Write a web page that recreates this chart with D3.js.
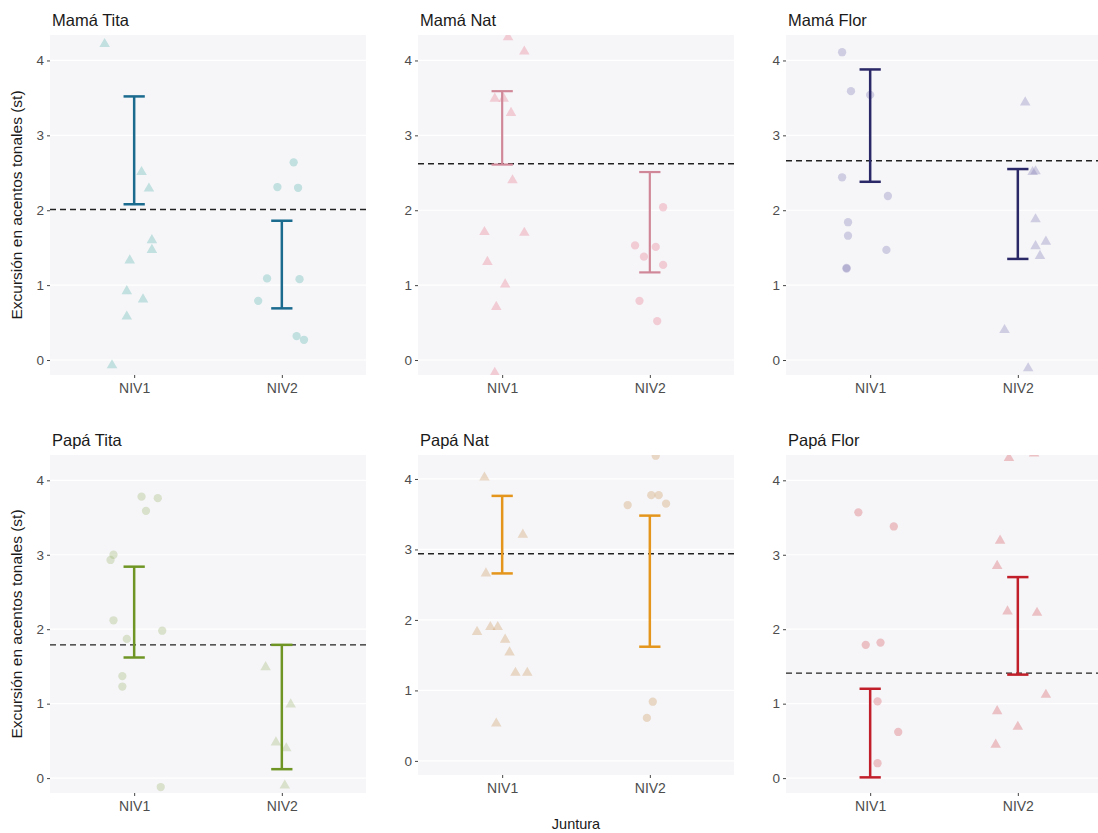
<!DOCTYPE html>
<html><head><meta charset="utf-8">
<script src="https://cdn.jsdelivr.net/npm/d3@7"></script>
<style>body{margin:0;background:#fff;}svg{display:block;font-family:"Liberation Sans",Arial,sans-serif;}</style>
</head><body>
<svg id="chart" width="1098" height="833"></svg>
<script>
// ---------- data ----------
const panelTitles = ["Mamá Tita", "Mamá Nat", "Mamá Flor", "Papá Tita", "Papá Nat", "Papá Flor"];
const categories = ["NIV1", "NIV2"];
const yTicks = [0, 1, 2, 3, 4];
const refLine = [2.01, 2.62, 2.66, 1.79, 2.94, 1.41];
const ciLowNIV1  = [2.08, 2.61, 2.38, 1.62, 2.66, 0.01];
const ciHighNIV1 = [3.52, 3.59, 3.88, 2.84, 3.76, 1.20];
const ciLowNIV2  = [0.69, 1.17, 1.35, 0.12, 1.62, 1.39];
const ciHighNIV2 = [1.86, 2.51, 2.55, 1.79, 3.48, 2.70];
const shapeNIV1 = ["triangle", "triangle", "circle", "circle", "triangle", "circle"];
const shapeNIV2 = ["circle", "circle", "triangle", "triangle", "circle", "triangle"];
const barColors = ["#1b6b8f", "#d08898", "#2b2867", "#6f9624", "#e4961c", "#c11f2a"];
const pointColors = ["#54b3aa", "#ea778b", "#8179b2", "#9fb671", "#ca985b", "#d6545b"];

// points: [category, jitter (category units), value]
const pointsMamaTita = [
  ["NIV1",-0.20,4.22],["NIV1",0.05,2.51],["NIV1",0.10,2.29],["NIV1",0.12,1.60],["NIV1",0.12,1.47],
  ["NIV1",-0.03,1.33],["NIV1",-0.05,0.92],["NIV1",0.06,0.81],["NIV1",-0.05,0.58],["NIV1",-0.15,-0.07],
  ["NIV2",0.08,2.64],["NIV2",-0.03,2.31],["NIV2",0.11,2.30],["NIV2",-0.10,1.09],["NIV2",0.12,1.08],
  ["NIV2",-0.16,0.79],["NIV2",0.10,0.32],["NIV2",0.15,0.27]
];
const pointsMamaNat = [
  ["NIV1",0.04,4.31],["NIV1",0.15,4.12],["NIV1",-0.05,3.49],["NIV1",0.01,3.49],["NIV1",0.06,3.30],
  ["NIV1",0.07,2.40],["NIV1",-0.12,1.71],["NIV1",0.15,1.70],["NIV1",-0.10,1.31],["NIV1",0.02,1.01],
  ["NIV1",-0.04,0.71],["NIV1",-0.05,-0.17],
  ["NIV2",0.09,2.04],["NIV2",-0.10,1.53],["NIV2",0.04,1.51],["NIV2",-0.04,1.38],["NIV2",0.09,1.27],
  ["NIV2",-0.07,0.79],["NIV2",0.05,0.52]
];
const pointsMamaFlor = [
  ["NIV1",-0.19,4.11],["NIV1",-0.13,3.59],["NIV1",0.00,3.54],["NIV1",-0.19,2.44],["NIV1",0.12,2.19],
  ["NIV1",-0.15,1.84],["NIV1",-0.15,1.66],["NIV1",0.11,1.47],["NIV1",-0.16,1.22],["NIV1",-0.16,1.23],
  ["NIV2",0.05,3.44],["NIV2",0.10,2.51],["NIV2",0.12,2.52],["NIV2",0.12,1.88],["NIV2",0.12,1.52],
  ["NIV2",0.19,1.58],["NIV2",0.15,1.39],["NIV2",-0.09,0.40],["NIV2",0.07,-0.11]
];
const pointsPapaTita = [
  ["NIV1",0.05,3.78],["NIV1",0.16,3.76],["NIV1",0.08,3.59],["NIV1",-0.14,3.00],["NIV1",-0.16,2.93],
  ["NIV1",-0.14,2.12],["NIV1",0.19,1.98],["NIV1",-0.05,1.87],["NIV1",-0.08,1.37],["NIV1",-0.08,1.23],
  ["NIV1",0.18,-0.12],
  ["NIV2",-0.11,1.49],["NIV2",0.06,0.99],["NIV2",-0.04,0.48],["NIV2",0.03,0.40],["NIV2",0.02,-0.10]
];
const pointsPapaNat = [
  ["NIV1",-0.12,4.02],["NIV1",0.14,3.21],["NIV1",-0.11,2.66],["NIV1",-0.17,1.83],["NIV1",-0.08,1.90],
  ["NIV1",-0.03,1.90],["NIV1",0.02,1.72],["NIV1",0.05,1.54],["NIV1",0.09,1.25],["NIV1",0.17,1.25],
  ["NIV1",-0.04,0.53],
  ["NIV2",0.04,4.33],["NIV2",-0.15,3.63],["NIV2",0.01,3.77],["NIV2",0.06,3.77],["NIV2",0.11,3.65],
  ["NIV2",0.02,0.84],["NIV2",-0.02,0.61]
];
const pointsPapaFlor = [
  ["NIV1",-0.08,3.57],["NIV1",0.16,3.38],["NIV1",-0.03,1.79],["NIV1",0.07,1.82],["NIV1",0.05,1.03],
  ["NIV1",0.19,0.62],["NIV1",0.05,0.20],
  ["NIV2",-0.06,4.30],["NIV2",0.11,4.36],["NIV2",-0.12,3.19],["NIV2",-0.14,2.85],["NIV2",-0.07,2.24],
  ["NIV2",0.13,2.22],["NIV2",0.19,1.12],["NIV2",-0.14,0.90],["NIV2",0.00,0.69],["NIV2",-0.15,0.45]
];
const allPoints = [pointsMamaTita, pointsMamaNat, pointsMamaFlor, pointsPapaTita, pointsPapaNat, pointsPapaFlor];

// ---------- layout ----------
const yDomain = [-0.2, 4.34];
const panelLefts = [50, 418, 786];
const panelWidth = 316;
const panelBoxes = [
  {top: 35, height: 340}, {top: 35, height: 340}, {top: 35, height: 340},
  {top: 455, height: 338}, {top: 455, height: 320}, {top: 455, height: 338}
];

const svg = d3.select("#chart");
const defs = svg.append("defs");

panelTitles.forEach((title, i) => {
  const col = i % 3;
  const box = panelBoxes[i];
  const left = panelLefts[col];
  const g = svg.append("g").attr("transform", `translate(${left},${box.top})`);

  const x = d3.scalePoint().domain(categories).range([0, panelWidth]).padding(0.57);
  const y = d3.scaleLinear().domain(yDomain).range([box.height, 0]);

  // background
  g.append("rect").attr("width", panelWidth).attr("height", box.height).attr("fill", "#f6f6f9");
  // grid
  g.selectAll(".grid").data(yTicks).join("line")
    .attr("x1", 0).attr("x2", panelWidth)
    .attr("y1", d => y(d)).attr("y2", d => y(d))
    .attr("stroke", "#ffffff").attr("stroke-width", 1.2);

  // axes
  const yAxis = d3.axisLeft(y).tickValues(yTicks).tickSize(3).tickPadding(3).tickFormat(d3.format("d"));
  const ya = g.append("g").call(yAxis);
  ya.select(".domain").remove();
  ya.selectAll("line").attr("stroke", "#444");
  ya.selectAll("text").attr("fill", "#4d4d4d").style("font-size", "13.5px");

  const xAxis = d3.axisBottom(x).tickSize(3).tickPadding(5);
  const xa = g.append("g").attr("transform", `translate(0,${box.height})`).call(xAxis);
  xa.select(".domain").remove();
  xa.selectAll("line").attr("stroke", "#444");
  xa.selectAll("text").attr("fill", "#4d4d4d").style("font-size", "14px");

  // clip
  const clipId = "clip" + i;
  defs.append("clipPath").attr("id", clipId).append("rect")
    .attr("x", left).attr("y", box.top).attr("width", panelWidth).attr("height", box.height);
  const clipped = svg.append("g").attr("clip-path", `url(#${clipId})`)
    .append("g").attr("transform", `translate(${left},${box.top})`);

  // points
  const shapes = {NIV1: shapeNIV1[i], NIV2: shapeNIV2[i]};
  const tri = d3.symbol().type(d3.symbolTriangle).size(48)();
  const circ = d3.symbol().type(d3.symbolCircle).size(54)();
  clipped.selectAll(".pt").data(allPoints[i]).join("path")
    .attr("d", d => shapes[d[0]] === "triangle" ? tri : circ)
    .attr("transform", d => `translate(${x(d[0]) + d[1] * x.step()},${y(d[2])})`)
    .attr("fill", pointColors[i]).attr("fill-opacity", 0.33);

  // reference dashed line
  clipped.append("line")
    .attr("x1", 0).attr("x2", panelWidth)
    .attr("y1", y(refLine[i])).attr("y2", y(refLine[i]))
    .attr("stroke", "#222").attr("stroke-width", 1.4).attr("stroke-dasharray", "6,4");

  // error bars
  const ci = [
    {cat: "NIV1", lo: ciLowNIV1[i], hi: ciHighNIV1[i]},
    {cat: "NIV2", lo: ciLowNIV2[i], hi: ciHighNIV2[i]}
  ];
  const capHalf = x.step() * 0.072;
  const eb = clipped.selectAll(".eb").data(ci).join("g")
    .attr("stroke", barColors[i]).attr("stroke-width", i === 1 ? 2.2 : 2.5).attr("fill", "none");
  eb.append("line").attr("x1", d => x(d.cat)).attr("x2", d => x(d.cat))
    .attr("y1", d => y(d.lo)).attr("y2", d => y(d.hi));
  eb.append("line").attr("x1", d => x(d.cat) - capHalf).attr("x2", d => x(d.cat) + capHalf)
    .attr("y1", d => y(d.lo)).attr("y2", d => y(d.lo));
  eb.append("line").attr("x1", d => x(d.cat) - capHalf).attr("x2", d => x(d.cat) + capHalf)
    .attr("y1", d => y(d.hi)).attr("y2", d => y(d.hi));

  // title
  svg.append("text").attr("x", left + 2).attr("y", box.top - 9)
    .attr("fill", "#1a1a1a").style("font-size", "16.5px").text(title);

  // y title (left column)
  if (col === 0) {
    svg.append("text")
      .attr("transform", `translate(22,${box.top + box.height / 2}) rotate(-90)`)
      .attr("text-anchor", "middle").attr("fill", "#1a1a1a").style("font-size", "15.5px")
      .text("Excursión en acentos tonales (st)");
  }
  // x title (middle bottom)
  if (i === 4) {
    svg.append("text").attr("x", left + panelWidth / 2).attr("y", 829)
      .attr("text-anchor", "middle").attr("fill", "#1a1a1a").style("font-size", "14.5px")
      .text("Juntura");
  }
});
</script>
</body></html>
